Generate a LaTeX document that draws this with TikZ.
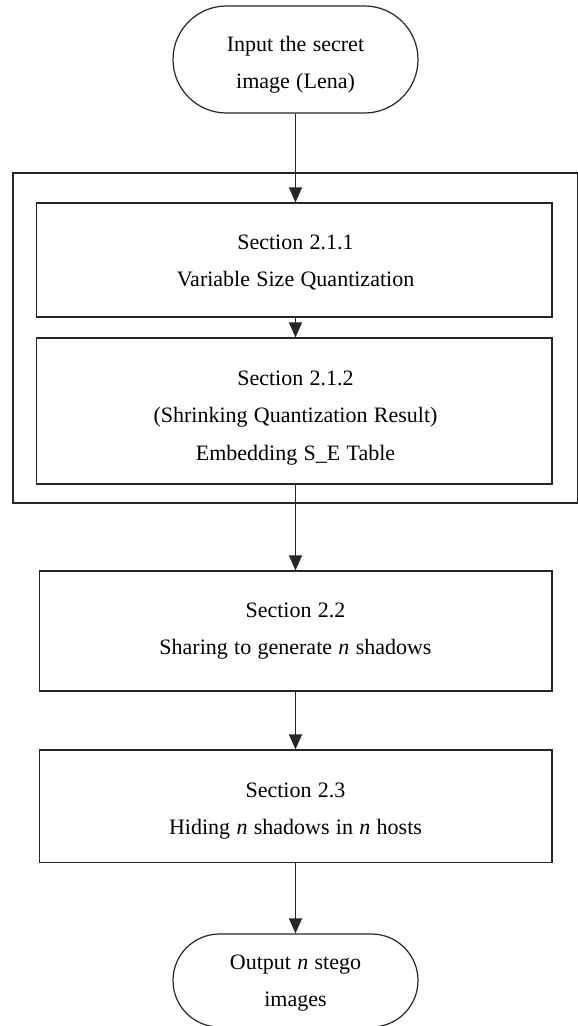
\documentclass[tikz,border=0pt]{standalone}
\usepackage{fontspec}
\setmainfont{Liberation Serif}[WordSpace=1.15]
\usetikzlibrary{shapes.misc,arrows.meta}

% fixed first-line height and last-line depth, so text blocks sit predictably
\newcommand\firstline{\raisebox{0pt}[18pt][0pt]{}}
\newcommand\lastline{\raisebox{0pt}[0pt][6pt]{}}

\tikzset{
  line/.style={draw=black!85, line width=1.2pt},
  term/.style={line, rounded rectangle, minimum width=245pt, inner sep=0pt},
  procbox/.style={line, rectangle, inner sep=0pt},
  label text/.style={anchor=north, inner sep=0pt, align=center,
                     font=\fontsize{22}{37.5}\selectfont},
  flow/.style={line, -{Triangle[length=15pt,width=13pt]}}
}

\begin{document}
\begin{tikzpicture}[x=1pt,y=-1pt]
  \useasboundingbox (0,0) rectangle (578,1026);

  % start terminal
  \node[term, minimum height=107pt] (start) at (295.5,59.5) {};
  \node[label text] (start-text) at (295.5,33)
    {\firstline Input the secret\\image (Lena)\lastline};

  % group frame around the quantization steps
  \node[procbox, minimum width=564.7pt, minimum height=330pt] (group) at (295.35,338) {};

  \node[procbox, minimum width=515.3pt, minimum height=114pt] (s211) at (294.35,260) {};
  \node[label text] (s211-text) at (295.5,231)
    {\firstline Section 2.1.1\\Variable Size Quantization\lastline};

  \node[procbox, minimum width=515.3pt, minimum height=146pt] (s212) at (294.35,411) {};
  \node[label text] (s212-text) at (295.5,367)
    {\firstline Section 2.1.2\\(Shrinking Quantization Result)\\Embedding S\_E Table\lastline};

  \node[procbox, minimum width=512.3pt, minimum height=120pt] (s22) at (295.85,631) {};
  \node[label text] (s22-text) at (295.5,599)
    {\firstline Section 2.2\\Sharing to generate \textit{n} shadows\lastline};

  \node[procbox, minimum width=512.3pt, minimum height=112.7pt] (s23) at (295.85,806.35) {};
  \node[label text] (s23-text) at (295.5,779)
    {\firstline Section 2.3\\Hiding \textit{n} shadows in \textit{n} hosts\lastline};

  % end terminal
  \node[term, minimum height=93pt] (end) at (295.5,980.5) {};
  \node[label text] (end-text) at (295.5,951)
    {\firstline Output \textit{n} stego\\images\lastline};

  % connectors
  \draw[flow] (start.south) -- (start.south |- s211.north);
  \draw[flow] (start.south |- s211.south) -- (start.south |- s212.north);
  \draw[flow] (start.south |- s212.south) -- (start.south |- s22.north);
  \draw[flow] (start.south |- s22.south) -- (start.south |- s23.north);
  \draw[flow] (start.south |- s23.south) -- (end.north);
\end{tikzpicture}
\end{document}
